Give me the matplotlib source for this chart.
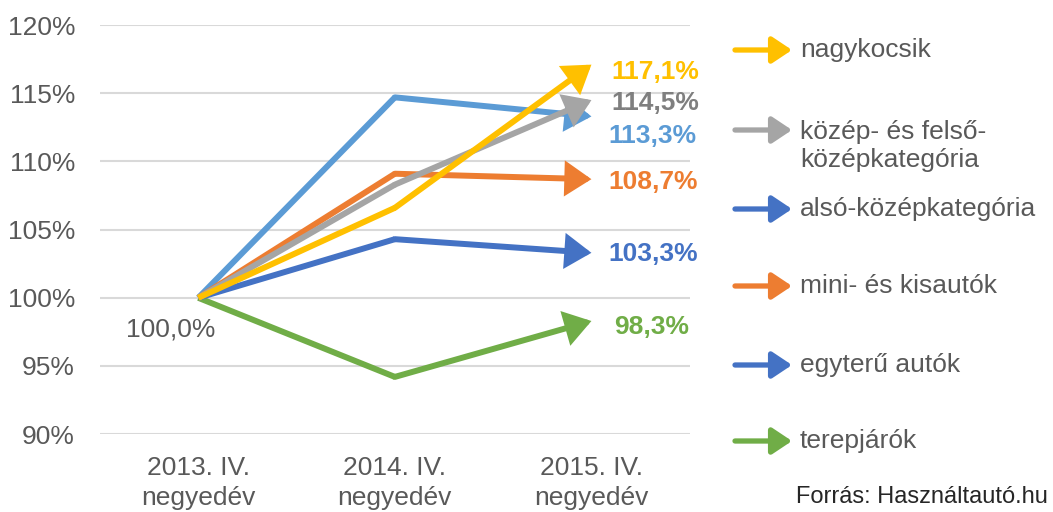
"""
Used-car price index by category, 2013 Q4 = 100%.
Writes out.png (1053x512).
"""
import matplotlib
matplotlib.use("Agg")
import matplotlib.pyplot as plt

plt.rcParams["font.family"] = ["Liberation Sans", "DejaVu Sans"]

# --- data -------------------------------------------------------------
periods = ["2013. IV.\nnegyedév", "2014. IV.\nnegyedév", "2015. IV.\nnegyedév"]
series_names = ["nagykocsik", "közép- és felső-\nközépkategória", "alsó-középkategória",
                "mini- és kisautók", "egyterű autók", "terepjárók"]
nagykocsik = [100.0, 106.6, 117.1]
kozep_felso = [100.0, 108.3, 114.5]
also_kozep = [100.0, 104.3, 103.3]
mini_kis = [100.0, 109.1, 108.7]
egyteru = [100.0, 114.7, 113.3]
terepjaro = [100.0, 94.2, 98.3]
yticks = [90, 95, 100, 105, 110, 115, 120]
source = "Forrás: Használtautó.hu"

# --- style ------------------------------------------------------------
YELLOW = "#FFC000"
GRAY = "#A5A5A5"
BLUE = "#4472C4"
ORANGE = "#ED7D31"
LIGHTBLUE = "#5B9BD5"
GREEN = "#70AD47"
TEXT = "#595959"
FS = 19

values = [nagykocsik, kozep_felso, also_kozep, mini_kis, egyteru, terepjaro]
line_colors = [YELLOW, GRAY, BLUE, ORANGE, LIGHTBLUE, GREEN]
legend_colors = [YELLOW, GRAY, BLUE, ORANGE, BLUE, GREEN]
label_colors = [YELLOW, "#7F7F7F", BLUE, ORANGE, LIGHTBLUE, GREEN]
# end-label offset (points) from the last point
label_offsets = [(14, -5), (14, -2), (12, -1), (12, -2), (12, -14), (16, -4)]
# drawing order, bottom to top
draw_order = [5, 4, 2, 3, 1, 0]
ARROW = "-|>,head_length=0.75,head_width=0.5"

fig = plt.figure(figsize=(10.53, 5.12), dpi=100)
ax = fig.add_axes([0.095, 0.152, 0.560, 0.799])

x = list(range(len(periods)))
for i in draw_order:
    v, c = values[i], line_colors[i]
    ax.plot(x[:2], v[:2], color=c, lw=4.3, solid_capstyle="butt",
            solid_joinstyle="miter", zorder=3)
    ax.annotate("", xy=(x[2], v[2]), xytext=(x[1], v[1]),
                arrowprops=dict(arrowstyle=ARROW, lw=4.3, color=c,
                                mutation_scale=18, shrinkA=0, shrinkB=0,
                                joinstyle="miter"),
                zorder=3)
    dx, dy = label_offsets[i]
    ax.annotate(f"{v[2]:.1f}%".replace(".", ","), xy=(x[2], v[2]),
                xytext=(dx, dy), textcoords="offset points",
                ha="left", va="center", fontsize=FS, fontweight="bold",
                color=label_colors[i])

ax.annotate(f"{values[0][0]:.1f}%".replace(".", ","), xy=(x[0], values[0][0]),
            xytext=(-20, -23), textcoords="offset points",
            ha="center", va="center", fontsize=FS, color=TEXT)

ax.set_xlim(-0.5, 2.5)
ax.set_ylim(yticks[0], yticks[-1])
ax.set_yticks(yticks)
ax.set_yticklabels([f"{t}%" for t in yticks])
ax.set_xticks(x)
ax.set_xticklabels(periods, linespacing=1.3)
ax.tick_params(axis="y", length=0, pad=18, labelsize=FS, labelcolor=TEXT)
ax.tick_params(axis="x", length=0, pad=16, labelsize=FS, labelcolor=TEXT)
ax.grid(axis="y", color="#D9D9D9", lw=1.5)
ax.set_axisbelow(True)
for s in ax.spines.values():
    s.set_visible(False)

# --- legend, drawn by hand (arrow glyph + text) -----------------------
legend_y = [462, 382, 303, 226, 147, 71]   # figure pixels from bottom
for name, c, yy in zip(series_names, legend_colors, legend_y):
    ax.annotate("", xy=(792, yy), xytext=(735, yy), xycoords="figure pixels",
                textcoords="figure pixels",
                arrowprops=dict(arrowstyle=ARROW, lw=3.8, color=c,
                                mutation_scale=16, shrinkA=0, shrinkB=0),
                annotation_clip=False)
    two = "\n" in name
    ax.annotate(name, xy=(800, yy), xycoords="figure pixels", ha="left",
                va="top" if two else "center", fontsize=FS, color=TEXT,
                linespacing=1.2, annotation_clip=False,
                xytext=(0, 7 if two else 0), textcoords="offset points")

fig.text(1048 / 1053, 15 / 512, source, ha="right", va="center",
         fontsize=17, color="#262626")

fig.savefig("out.png", dpi=100)
